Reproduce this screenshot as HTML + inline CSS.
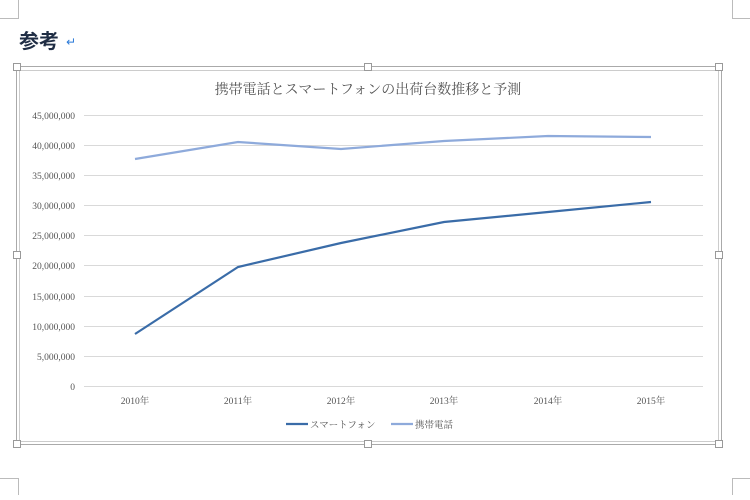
<!DOCTYPE html>
<html><head><meta charset="utf-8"><style>
body{margin:0;background:#fff;width:750px;height:495px;overflow:hidden}
text{font-family:"Liberation Serif","Noto Serif CJK SC","Noto Sans CJK JP",serif}
</style></head><body>
<svg width="750" height="495" viewBox="0 0 750 495" xmlns="http://www.w3.org/2000/svg">
<g stroke="#bbb" fill="none" stroke-width="1">
<path d="M18.5 0V18.5H0"/><path d="M0 478.5H18.5V495"/><path d="M750 478.5H732.5V495"/><path d="M732.5 0V18.5H750"/>
</g>
<text x="19" y="48" font-family="Noto Sans CJK JP,sans-serif" font-size="20" font-weight="bold" fill="#1f2d44" style="font-family:'Noto Sans CJK JP',sans-serif">参考</text>
<text x="66" y="46" font-size="12" fill="#2a7ad8" style="font-family:'DejaVu Sans',sans-serif">↵</text>
<rect x="16.5" y="66.5" width="705" height="378" fill="none" stroke="#aaa"/>
<rect x="19.5" y="70.5" width="699" height="371" fill="none" stroke="#ccc"/>
<g fill="#fff" stroke="#999">
<rect x="13.5" y="63.5" width="7" height="7"/><rect x="364.5" y="63.5" width="7" height="7"/><rect x="715.5" y="63.5" width="7" height="7"/>
<rect x="13.5" y="251.5" width="7" height="7"/><rect x="715.5" y="251.5" width="7" height="7"/>
<rect x="13.5" y="440.5" width="7" height="7"/><rect x="364.5" y="440.5" width="7" height="7"/><rect x="715.5" y="440.5" width="7" height="7"/>
</g>
<text x="368" y="94" text-anchor="middle" font-size="14" fill="#555">携帯電話とスマートフォンの出荷台数推移と予測</text>
<g stroke="#d9d9d9" stroke-width="1">
<line x1="84" x2="703" y1="115.5" y2="115.5"/><line x1="84" x2="703" y1="145.5" y2="145.5"/><line x1="84" x2="703" y1="175.5" y2="175.5"/><line x1="84" x2="703" y1="205.5" y2="205.5"/><line x1="84" x2="703" y1="235.5" y2="235.5"/><line x1="84" x2="703" y1="265.5" y2="265.5"/><line x1="84" x2="703" y1="296.5" y2="296.5"/><line x1="84" x2="703" y1="326.5" y2="326.5"/><line x1="84" x2="703" y1="356.5" y2="356.5"/><line x1="84" x2="703" y1="386.5" y2="386.5"/>
</g>
<g font-size="9.5" fill="#555" text-anchor="end">
<text x="75" y="119">45,000,000</text><text x="75" y="149">40,000,000</text><text x="75" y="179">35,000,000</text><text x="75" y="209">30,000,000</text><text x="75" y="239">25,000,000</text><text x="75" y="269">20,000,000</text><text x="75" y="300">15,000,000</text><text x="75" y="330">10,000,000</text><text x="75" y="360">5,000,000</text><text x="75" y="390">0</text>
</g>
<g font-size="9.5" fill="#555" text-anchor="middle">
<text x="135" y="404">2010年</text><text x="238" y="404">2011年</text><text x="341" y="404">2012年</text><text x="444" y="404">2013年</text><text x="548" y="404">2014年</text><text x="651" y="404">2015年</text>
</g>
<polyline points="135,159 238,142 341,149 444,141 548,136 651,137" fill="none" stroke="#8eaadb" stroke-width="2.2"/>
<polyline points="135,334 238,267 341,243 444,222 548,212 651,202" fill="none" stroke="#3a6ca8" stroke-width="2.2"/>
<line x1="286" x2="308" y1="424" y2="424" stroke="#3a6ca8" stroke-width="2.2"/>
<text x="310" y="428" font-size="9.5" fill="#555">スマートフォン</text>
<line x1="391" x2="413" y1="424" y2="424" stroke="#8eaadb" stroke-width="2.2"/>
<text x="415" y="428" font-size="9.5" fill="#555">携帯電話</text>
</svg>
</body></html>
